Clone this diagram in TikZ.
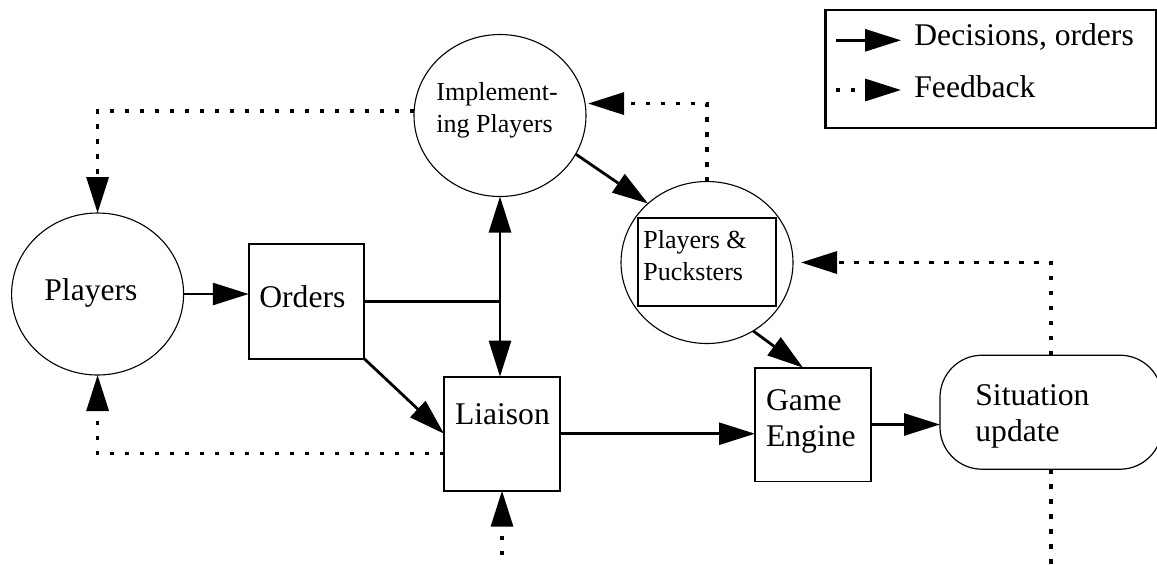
\documentclass[tikz,border=0pt]{standalone}
\usepackage{fontspec}
\setmainfont{Liberation Serif}
\usetikzlibrary{arrows.meta,shapes.geometric,calc}
\begin{document}
\begin{tikzpicture}[x=0.5pt,y=-0.5pt,
  circ/.style={draw,ellipse,line width=0.55pt,inner sep=0pt,outer sep=0pt,minimum width=86pt,minimum height=81pt},
  box/.style={draw,rectangle,line width=0.9pt,inner sep=0pt,outer sep=0pt},
  big/.style={anchor=base west,inner sep=0pt,font=\fontsize{15.8}{18.3}\selectfont},
  small/.style={anchor=base west,inner sep=0pt,font=\fontsize{13}{16}\selectfont},
  arr/.style={line width=1.4pt,-{Triangle[length=18pt,width=11pt]}},
  fbline/.style={line width=1.6pt,dash pattern=on 2.2pt off 5.3pt},
  fb/.style={fbline,-{Triangle[length=18pt,width=11pt]}},
  plain/.style={line width=1.4pt}
]
\clip (0,0) rectangle (1157,564);
% nodes
\node[circ] (players) at (97.6,294) {};
\node[big] (playersT) at (44,300) {Players};
\node[box,minimum width=57.75pt,minimum height=57.2pt] (orders) at (306.5,301.5) {};
\node[big] (ordersT) at (259,307) {Orders};
\node[box,minimum width=58pt,minimum height=57pt] (liaison) at (502,433.7) {};
\node[big] (liaisonT) at (454.6,424) {Liaison};
\node[box,minimum width=58pt,minimum height=56.9pt] (ge) at (813,424.5) {};
\node[big] (geT) at (765.7,410) {\parbox[t]{60pt}{Game\\Engine}};
\node[draw,rectangle,rounded corners=21pt,line width=0.6pt,inner sep=0pt,outer sep=0pt,minimum width=111pt,minimum height=57pt] (situation) at (1051,412.2) {};
\node[big] (situationT) at (975,405) {\parbox[t]{80pt}{Situation\\update}};
\node[circ] (impl) at (500,115.5) {};
\node[small] (implT) at (436,100) {\parbox[t]{80pt}{Implement-\\ing Players}};
\node[circ] (pp) at (707,262.5) {};
\node[box,minimum width=69.15pt,minimum height=44.15pt] (ppbox) at (706.85,261.85) {};
\node[small] (ppT) at (643,248) {\parbox[t]{70pt}{Players \&\\Pucksters}};
% legend
\node[draw,rectangle,line width=1.1pt,inner sep=0pt,outer sep=0pt,minimum width=165.3pt,minimum height=58.85pt] (legend) at (990.7,68.85) {};
\node[big] (legT1) at (914,45) {Decisions, orders};
\node[big] (legT2) at (914,97) {Feedback};
\coordinate (l1a) at (836,40.3);
\coordinate (l1b) at (901,40.3);
\coordinate (l2a) at (836,90);
\coordinate (l2b) at (901,90);
\draw[arr] (l1a) -- (l1b);
\draw[fb] (l2a) -- (l2b);
% decisions
\draw[arr] (players.east) -- (players.east -| orders.west);
\coordinate (j) at (impl.south |- orders.east);
\draw[plain] (orders.east) -- (j);
\draw[arr] (j) -- (impl.south);
\draw[arr] (j) -- (j |- liaison.north);
\draw[arr] (orders.south east) -- (liaison.west);
\draw[arr] (liaison.east) -- (liaison.east -| ge.west);
\draw[arr] (ge.east) -- (ge.east -| situation.west);
\draw[arr] (impl.-27) -- (pp.135);
\draw[arr] (pp.-56) -- ([xshift=-5pt]ge.north);
% feedback
\draw[fb] (impl.177) -| (players.north);
\draw[fb] ([yshift=-10pt]liaison.west) -| (players.south);
\coordinate (lfree) at (502,555);
\draw[fb] (lfree) -- (liaison.south);
\draw[fb] (pp.north) |- ([xshift=1.5pt]impl.8);
\draw[fb] (situation.north) |- ([xshift=4pt]pp.east);
\coordinate (sfree) at (1053.5,570);
\draw[fbline] (situation.south) -- (situation.south |- sfree);
\end{tikzpicture}
\end{document}
